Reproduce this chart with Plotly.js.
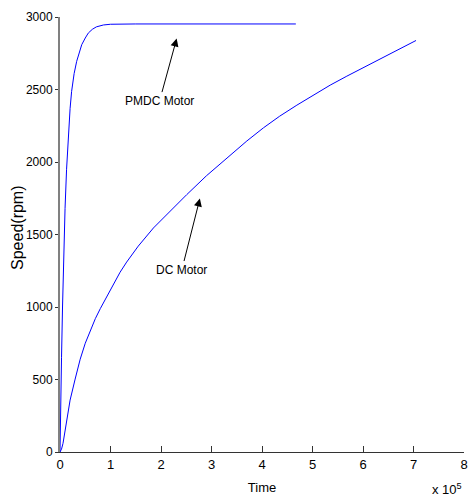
<!DOCTYPE html>
<html>
<head>
<meta charset="utf-8">
<script src="https://cdn.plot.ly/plotly-3.0.1.min.js"></script>
<style>html,body{margin:0;padding:0;background:#fff;}#chart{width:469px;height:502px;}</style>
</head>
<body>
<div id="chart"></div>
<script>
// Time in units of 1e5
const pmdcTime = [0, 0.005, 0.015, 0.03, 0.05, 0.07, 0.1, 0.13, 0.165, 0.2, 0.23, 0.28, 0.33, 0.38, 0.43, 0.5, 0.56, 0.64, 0.72, 0.86, 1.0, 1.5, 2.0, 3.0, 4.0, 4.67];
const pmdcSpeed = [0, 150, 350, 650, 1000, 1300, 1680, 1950, 2211, 2370, 2487, 2610, 2694, 2760, 2809, 2855, 2889, 2915, 2932, 2945, 2950, 2952, 2952, 2952, 2952, 2952];

const dcTime = [0, 0.03, 0.06, 0.09, 0.13, 0.2, 0.3, 0.4, 0.5, 0.6, 0.7, 0.8, 0.92, 1.05, 1.19, 1.32, 1.55, 1.85, 2.2, 2.51, 2.9, 3.37, 3.7, 4.03, 4.35, 4.69, 5.02, 5.35, 5.68, 6.01, 6.5, 7.05];
const dcSpeed = [0, 20, 60, 130, 221, 358, 503, 640, 750, 840, 920, 990, 1070, 1150, 1240, 1310, 1420, 1545, 1670, 1775, 1905, 2050, 2145, 2236, 2316, 2392, 2462, 2530, 2592, 2652, 2740, 2838];

const xTicks = [0, 1, 2, 3, 4, 5, 6, 7, 8];
const yTicks = [0, 500, 1000, 1500, 2000, 2500, 3000];

const labelPMDC = {text: 'PMDC Motor', x: 2.31, y: 2851};
const labelDC = {text: 'DC Motor', x: 2.77, y: 1748};
const yTitle = 'Speed(rpm)';
const xTitle = 'Time';

const fontFam = 'Arial, Liberation Sans, sans-serif';

const traces = [
  {x: pmdcTime, y: pmdcSpeed, type: 'scatter', mode: 'lines', name: 'PMDC Motor',
   line: {color: '#0000ff', width: 1}},
  {x: dcTime, y: dcSpeed, type: 'scatter', mode: 'lines', name: 'DC Motor',
   line: {color: '#0000ff', width: 1}}
];

const layout = {
  width: 469, height: 502,
  margin: {l: 60, r: 5, t: 17, b: 50},
  paper_bgcolor: '#fff', plot_bgcolor: '#fff',
  showlegend: false,
  xaxis: {
    range: [0, 8], tickvals: xTicks, ticktext: xTicks.map(String),
    showgrid: false, zeroline: false, showline: true, linecolor: '#333', linewidth: 1,
    ticks: 'inside', ticklen: 6, tickcolor: '#333', tickwidth: 1,
    tickfont: {family: fontFam, size: 13, color: '#000'},
    title: {text: xTitle, font: {family: fontFam, size: 13, color: '#000'}, standoff: 12},
    fixedrange: true
  },
  yaxis: {
    range: [0, 3000], tickvals: yTicks, ticktext: yTicks.map(String),
    showgrid: false, zeroline: false, showline: true, linecolor: '#808080', linewidth: 2,
    ticks: 'outside', ticklen: 3, tickcolor: '#333', tickwidth: 1,
    tickfont: {family: fontFam, size: 12, color: '#000'},
    fixedrange: true
  },
  annotations: [
    {x: -0.104, y: 0.515, xref: 'paper', yref: 'paper', xanchor: 'center', yanchor: 'middle',
     text: yTitle, textangle: -90, showarrow: false,
     font: {family: fontFam, size: 16, color: '#000'}},
    {x: labelPMDC.x, y: labelPMDC.y, xref: 'x', yref: 'y', text: labelPMDC.text,
     showarrow: true, ax: -17, ay: 62, arrowhead: 2, arrowsize: 1.6, arrowwidth: 1, arrowcolor: '#000',
     font: {family: fontFam, size: 12, color: '#000'}},
    {x: labelDC.x, y: labelDC.y, xref: 'x', yref: 'y', text: labelDC.text,
     showarrow: true, ax: -18, ay: 71, arrowhead: 2, arrowsize: 1.6, arrowwidth: 1, arrowcolor: '#000',
     font: {family: fontFam, size: 12, color: '#000'}},
    {x: 1, y: -0.085, xref: 'paper', yref: 'paper', xanchor: 'right', yanchor: 'middle',
     text: 'x 10<sup>5</sup>', showarrow: false,
     font: {family: fontFam, size: 13, color: '#000'}}
  ]
};

Plotly.newPlot('chart', traces, layout, {displayModeBar: false, staticPlot: true});
</script>
</body>
</html>
